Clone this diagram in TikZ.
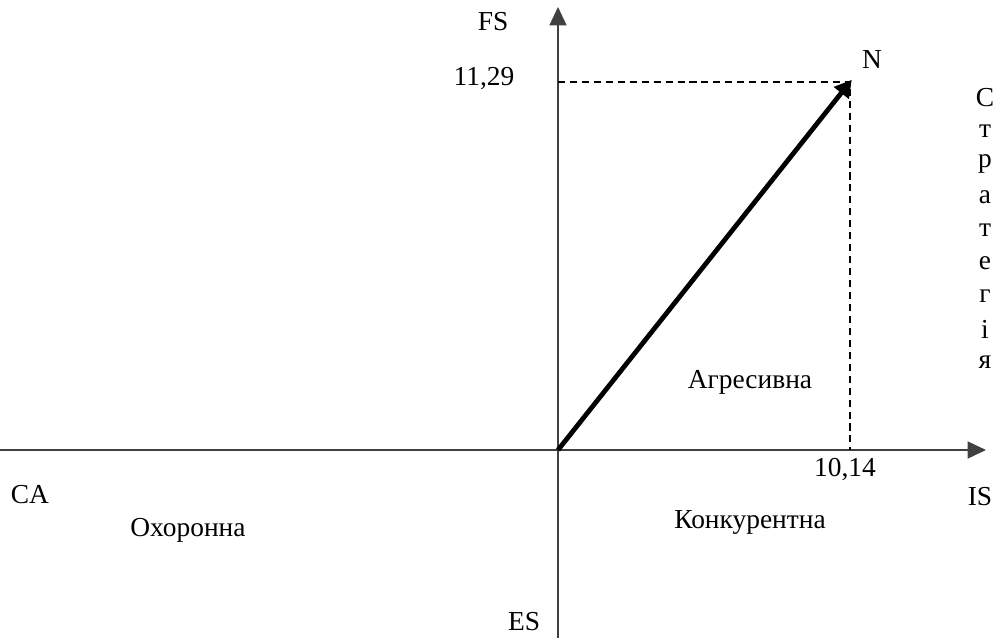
\documentclass[tikz,border=0pt]{standalone}
\usepackage{fontspec}
\setmainfont{Liberation Serif}
\usetikzlibrary{arrows.meta,positioning}

\tikzset{
  axisline/.style={draw=black!75, line width=1.2pt, -{Triangle[length=13pt,width=12pt]}},
  guide/.style={draw=black, line width=0.9pt, dash pattern=on 5pt off 3.5pt},
  vecline/.style={draw=black, line width=3.4pt, -{Triangle[length=12pt,width=13pt]}, shorten >=-2pt},
  lbl/.style={font=\fontsize{19.5}{22}\selectfont, inner sep=0pt}
}

\begin{document}
\begin{tikzpicture}[x=0.025cm,y=-0.025cm]
  \useasboundingbox (0,0) rectangle (994,638);

  % axes
  \coordinate (O) at (558,450);
  \coordinate (xs) at (0,450);
  \coordinate (xe) at (986,450);
  \coordinate (ys) at (558,638);
  \coordinate (ye) at (558,7);
  \coordinate (Npt) at (850,82);
  \coordinate (Fy) at (558,82);
  \coordinate (Ix) at (850,450);

  \draw[axisline] (xs) -- (xe);
  \draw[axisline] (ys) -- (ye);

  % projections of N
  \draw[guide] (Fy) -- (Npt) -- (Ix);
  \draw[vecline] (O) -- (Npt);

  % labels
  \node[lbl] (fs) at (493,22) {FS};
  \node[lbl] (fsval) at (484,79) {11,29};
  \node[lbl] (nlbl) at (872,60) {N};
  \node[lbl] (isval) at (845,469) {10,14};
  \node[lbl] (is) at (980,497) {IS};
  \node[lbl] (ca) at (30,495) {CA};
  \node[lbl] (es) at (524,622) {ES};
  \node[lbl] (aggr) at (750,382) {Агресивна};
  \node[lbl] (comp) at (750,522) {Конкурентна};
  \node[lbl] (prot) at (188,530) {Охоронна};

  % vertical title
  \foreach \ch [count=\i from 0] in {С,т,р,а,т,е,г,і,я}
    \node[lbl] (st\i) at (985,98+33*\i) {\ch};
\end{tikzpicture}
\end{document}
